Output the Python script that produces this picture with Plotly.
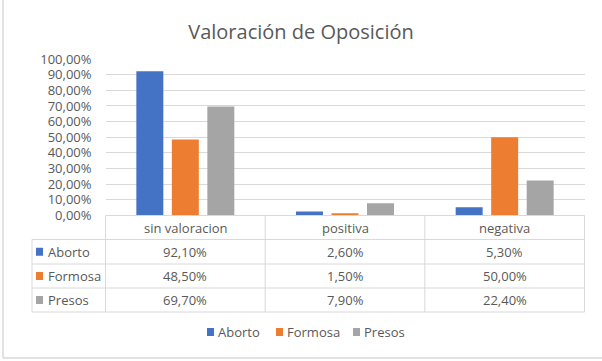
import plotly.graph_objects as go

categories = ["sin valoracion", "positiva", "negativa"]
series_names = ["Aborto", "Formosa", "Presos"]
aborto = [92.1, 2.6, 5.3]
formosa = [48.5, 1.5, 50.0]
presos = [69.7, 7.9, 22.4]
y_ticks = [0, 10, 20, 30, 40, 50, 60, 70, 80, 90, 100]
title_text = "Valoración de Oposición"

series_values = [aborto, formosa, presos]
colors = ["#4472C4", "#ED7D31", "#A5A5A5"]

W, H = 602, 361
TXT = "#595959"
GRID = "#d9d9d9"
FONT = "Open Sans"
FS = 13


def px(x):
    return x / W


def py(y):
    return 1 - y / H


def fmt(v):
    return f"{v:.2f}".replace(".", ",") + "%"


fig = go.Figure()
for name, vals, c in zip(series_names, series_values, colors):
    fig.add_trace(go.Bar(x=categories, y=[v / 100 for v in vals], name=name,
                         marker=dict(color=c, line=dict(width=0)), showlegend=False))

# layout geometry (pixels)
plot_l, plot_r = 105.5, 584.5
y0_px, y100_px = 215.5, 59
rows_y = [215.5, 239.5, 264, 288, 312]
left_col = 32

shapes = []
# outer frame (left and bottom edges visible)
shapes.append(dict(type="line", xref="paper", yref="paper", x0=px(3), x1=px(3), y0=py(0), y1=py(358),
                   line=dict(color="#d9d9d9", width=1.5)))
shapes.append(dict(type="line", xref="paper", yref="paper", x0=px(3), x1=px(602), y0=py(358), y1=py(358),
                   line=dict(color="#d9d9d9", width=1.5)))
# header row top line
shapes.append(dict(type="line", xref="paper", yref="paper", x0=px(plot_l), x1=px(plot_r),
                   y0=py(rows_y[0]), y1=py(rows_y[0]), line=dict(color=GRID, width=1)))
for y in rows_y[1:]:
    shapes.append(dict(type="line", xref="paper", yref="paper", x0=px(left_col), x1=px(plot_r),
                       y0=py(y), y1=py(y), line=dict(color=GRID, width=1)))
# vertical lines
ncat = len(categories)
col_edges = [plot_l + (plot_r - plot_l) * i / ncat for i in range(ncat + 1)]
for x in col_edges:
    shapes.append(dict(type="line", xref="paper", yref="paper", x0=px(x), x1=px(x),
                       y0=py(rows_y[0]), y1=py(rows_y[-1]), line=dict(color=GRID, width=1)))
shapes.append(dict(type="line", xref="paper", yref="paper", x0=px(left_col), x1=px(left_col),
                   y0=py(rows_y[1]), y1=py(rows_y[-1]), line=dict(color=GRID, width=1)))

annotations = []
# header
for cat in categories:
    annotations.append(dict(x=cat, xref="x", y=py((rows_y[0] + rows_y[1]) / 2), yref="paper",
                            text=cat, showarrow=False, yanchor="middle",
                            font=dict(family=FONT, size=FS, color=TXT)))
# rows
for i, (name, vals, c) in enumerate(zip(series_names, series_values, colors)):
    yc = (rows_y[i + 1] + rows_y[i + 2]) / 2
    shapes.append(dict(type="rect", xref="paper", yref="paper", x0=px(36), x1=px(43),
                       y0=py(yc + 4), y1=py(yc - 4), fillcolor=c, line=dict(width=0)))
    annotations.append(dict(x=px(46), xref="paper", y=py(yc), yref="paper", text=name,
                            xanchor="left", yanchor="middle", showarrow=False,
                            font=dict(family=FONT, size=FS, color=TXT)))
    for cat, v in zip(categories, vals):
        annotations.append(dict(x=cat, xref="x", y=py(yc), yref="paper", text=fmt(v),
                                showarrow=False, yanchor="middle",
                                font=dict(family=FONT, size=FS, color=TXT)))

# legend (bottom, centered)
leg_y = 332
leg_sq = [207, 276, 353]
for name, c, x in zip(series_names, colors, leg_sq):
    shapes.append(dict(type="rect", xref="paper", yref="paper", x0=px(x), x1=px(x + 7),
                       y0=py(leg_y + 4), y1=py(leg_y - 4), fillcolor=c, line=dict(width=0)))
    annotations.append(dict(x=px(x + 9), xref="paper", y=py(leg_y), yref="paper", text=name,
                            xanchor="left", yanchor="middle", showarrow=False,
                            font=dict(family=FONT, size=FS, color=TXT)))

fig.update_layout(
    width=W, height=H, autosize=False,
    margin=dict(l=0, r=0, t=0, b=0, pad=0, autoexpand=False),
    paper_bgcolor="white", plot_bgcolor="white",
    separators=",.",
    title=dict(text=title_text, x=0.5, xanchor="center", y=py(32), yanchor="middle",
               font=dict(family=FONT, size=20, color=TXT)),
    barmode="group", bargap=0.333, bargroupgap=0.24,
    xaxis=dict(domain=[px(plot_l), px(plot_r)], showticklabels=False, showgrid=False,
               showline=False, zeroline=False, ticks="", automargin=False),
    yaxis=dict(domain=[py(y0_px), py(y100_px)], range=[0, 1],
               tickvals=[t / 100 for t in y_ticks], tickformat=".2%",
               showgrid=True, gridcolor=GRID, gridwidth=1, zeroline=False, showline=False,
               tickfont=dict(family=FONT, size=FS, color=TXT), ticks="", ticklabelstandoff=13,
               automargin=False),
    shapes=shapes, annotations=annotations,
    showlegend=False,
)

fig.write_html("out.html", config={"displayModeBar": False},
               post_script="document.body.style.margin='0';document.body.style.overflow='hidden';")
